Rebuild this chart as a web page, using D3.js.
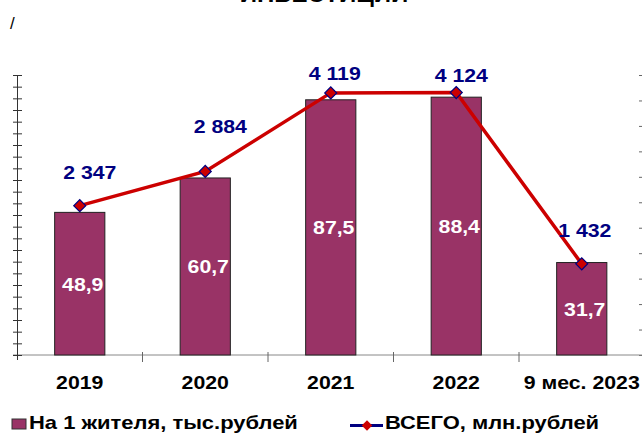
<html>
<head>
<meta charset="utf-8">
<script src="https://d3js.org/d3.v7.min.js"></script>
<style>
    body { margin: 0; background: #fff; }
    text { font-family: Arial, "Liberation Sans", sans-serif; font-weight: bold; }
    .bar { fill: #993366; stroke: #222; stroke-width: 1px; }
    .total-line { fill: none; stroke: #cc0000; stroke-width: 3.5px; }
    .marker { fill: #cc0000; stroke: #000080; stroke-width: 1.2px; }
    .val { fill: #000080; font-size: 19px; }
    .barval { fill: #fff; font-size: 19px; }
    .cat { fill: #000; font-size: 19px; }
    .legend { fill: #000; font-size: 18px; }
</style>
</head>
<body>
<svg id="chart" width="642" height="435"></svg>

<script>
    // data
    const categories = ["2019", "2020", "2021", "2022", "9 мес. 2023"];
    const perResident = [48.9, 60.7, 87.5, 88.4, 31.7];   // тыс.рублей
    const totals = [2347, 2884, 4119, 4124, 1432];        // млн.рублей
    const leftTicks = d3.range(0, 97, 4);
    const rightTicks = d3.range(0, 4401, 400);

    // nudges for the "ВСЕГО" labels (they sit by hand in the original)
    const labelNudge = [[10, -27], [15, -38], [4, -13], [5, -11], [3, -27]];

    const ru = d3.formatLocale({ decimal: ",", thousands: " ", grouping: [3], currency: ["", ""] });
    const fmtTotal = ru.format(",d");
    const fmtPer = ru.format(".1f");

    const svg = d3.select("#chart");
    const baseY = 355, topY = 75;

    const x = d3.scaleBand().domain(categories).range([17, 644.5]);
    const yLeft = d3.scaleLinear().domain([0, 96]).range([baseY, topY]);
    const yRight = d3.scaleLinear().domain([0, 4400]).range([baseY, topY]);
    const sx = 1.12; // the picture is a bit wide

    // title, cut off at the top like in the original
    svg.append("text").attr("x", 324).attr("y", 1.5).attr("text-anchor", "middle")
        .style("font-size", "24px").text("ИНВЕСТИЦИИ");
    svg.append("text").attr("x", 10).attr("y", 29)
        .style("font-size", "17px").style("font-weight", "normal").text("/");

    // right axis ticks (no labels)
    const rAxis = svg.append("g").attr("transform", "translate(642,0)")
        .call(d3.axisLeft(yRight).tickValues(rightTicks).tickSize(3).tickFormat(""));
    rAxis.select(".domain").remove();
    rAxis.selectAll("line").attr("stroke", "#666");

    // baseline + category ticks
    svg.append("line").attr("x1", 13).attr("x2", 642).attr("y1", baseY).attr("y2", baseY)
        .attr("stroke", "#888").attr("stroke-width", 1);
    svg.selectAll("line.catTick").data(categories.slice(1)).join("line")
        .attr("class", "catTick")
        .attr("x1", d => x(d)).attr("x2", d => x(d))
        .attr("y1", baseY - 3).attr("y2", baseY + 7)
        .attr("stroke", "#666");

    // left axis, ticks cross the line
    const lAxis = svg.append("g").attr("transform", "translate(17.5,0)")
        .call(d3.axisLeft(yLeft).tickValues(leftTicks).tickSizeOuter(0).tickFormat(""));
    lAxis.selectAll(".tick line").attr("x1", -4.5).attr("x2", 4.5).attr("stroke", "#333");
    lAxis.select(".domain").attr("stroke", "#333").attr("d", `M0,${topY}V${baseY + 5}`);

    // bars
    const bw = x.bandwidth() * 0.4;
    svg.selectAll("rect.bar").data(perResident).join("rect")
        .attr("class", "bar")
        .attr("x", (d, i) => x(categories[i]) + (x.bandwidth() - bw) / 2)
        .attr("width", bw)
        .attr("y", d => yLeft(d))
        .attr("height", d => baseY - yLeft(d));

    const cx = i => x(categories[i]) + x.bandwidth() / 2;

    svg.selectAll("text.barval").data(perResident).join("text")
        .attr("class", "barval")
        .attr("text-anchor", "middle")
        .attr("transform", (d, i) => `translate(${cx(i) + 3},${(yLeft(d) + baseY) / 2 + 7}) scale(${sx},1)`)
        .text(d => fmtPer(d));

    // total line
    const line = d3.line().x((d, i) => cx(i)).y(d => yRight(d));
    svg.append("path").datum(totals).attr("class", "total-line").attr("d", line);

    svg.selectAll("path.marker").data(totals).join("path")
        .attr("class", "marker")
        .attr("d", d3.symbol(d3.symbolSquare, 72))
        .attr("transform", (d, i) => `translate(${cx(i)},${yRight(d)}) rotate(45)`);

    svg.selectAll("text.val").data(totals).join("text")
        .attr("class", "val")
        .attr("text-anchor", "middle")
        .attr("transform", (d, i) => `translate(${cx(i) + labelNudge[i][0]},${yRight(d) + labelNudge[i][1]}) scale(${sx},1)`)
        .text(d => fmtTotal(d));

    // category labels
    svg.selectAll("text.cat").data(categories).join("text")
        .attr("class", "cat")
        .attr("text-anchor", "middle")
        .attr("transform", (d, i) => `translate(${cx(i)},${389}) scale(${sx},1)`)
        .text(d => d);

    // legend
    const lg = svg.append("g");
    lg.append("rect").attr("x", 12).attr("y", 419).attr("width", 14).attr("height", 10)
        .attr("fill", "#993366").attr("stroke", "#333");
    lg.append("text").attr("class", "legend")
        .attr("transform", `translate(29,429) scale(${sx + 0.1},1)`)
        .text("На 1 жителя, тыс.рублей");
    lg.append("line").attr("x1", 350).attr("x2", 383).attr("y1", 425.5).attr("y2", 425.5)
        .attr("stroke", "#000080").attr("stroke-width", 3);
    lg.append("path").attr("class", "marker")
        .attr("d", d3.symbol(d3.symbolSquare, 56))
        .attr("transform", "translate(367,425.5) rotate(45)")
        .style("stroke", "none");
    lg.append("text").attr("class", "legend")
        .attr("transform", `translate(385,429) scale(${sx + 0.1},1)`)
        .text("ВСЕГО, млн.рублей");
</script>
</body>
</html>
